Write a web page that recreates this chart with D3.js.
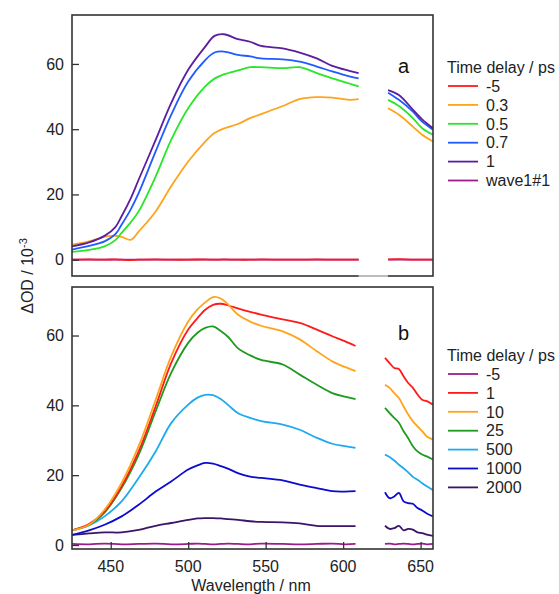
<!DOCTYPE html>
<html><head><meta charset="utf-8">
<script src="https://cdn.jsdelivr.net/npm/d3@7"></script>
<style>body{margin:0;background:#fff}svg{display:block;font-family:"Liberation Sans",Arial,sans-serif}</style>
</head><body><svg id="c" width="559" height="594"></svg>
<script>
// ---------- DATA ----------
// Panel a
const wlA = [425,436,446,453,457,463,468,479,489,500,511,517,523,532,540,547,561,572,583,593,604,610,620,629,636,645,651,658];
const a_m5   = [0,0.1,0,0.1,0,-0.1,0,0.1,0,0,0.1,0,0.1,0,0,0.1,0,0,0.1,0,0,0,null,0.1,0.2,0,0,0];
const a_03   = [4.6,5.6,7.1,7.3,7.0,6.1,8.6,14.8,22.5,30.1,36.2,38.8,40.2,41.6,43.4,44.6,47.1,49.2,49.8,49.7,49.0,49.2,null,46.4,44.4,40.8,38.3,36.2];
const a_05   = [2.4,3.0,4.1,6.0,8.2,11.5,14.8,25.5,36.7,46.4,53.1,55.5,56.8,58.0,59.0,59.0,58.7,59.0,57.2,55.6,54.0,53.1,null,49.0,47.1,43.4,40.3,38.3];
const a_07   = [3.1,4.2,5.6,7.8,10.7,15.5,20.4,33.2,44.4,54.6,61.2,63.5,63.8,62.8,62.3,61.7,61.4,60.7,59.2,57.7,56.2,55.6,null,51.2,49.0,45.4,42.3,39.8];
const a_1    = [4.1,5.3,7.3,10.0,13.3,18.9,24.5,36.7,48.0,58.2,65.3,68.6,69.1,67.6,66.8,65.5,64.8,63.5,61.7,59.4,57.9,57.2,null,52.0,50.5,46.0,43.0,40.3];
const a_wave = [0,0,0,0,0,0,0,0,0,0,0,0,0,0,0,0,0,0,0,0,0,0,null,0,0,0,0,0];
const labelsA = ["-5","0.3","0.5","0.7","1","wave1#1"];

// Panel b
const wlB = [425,436,446,457,468,479,489,500,506,511,516,521,526,532,540,547,561,572,583,593,601,608,618,627,630,633,636,639,642,645,648,651,654,658];
const b_m5   = [0.3,0.2,0.4,0.2,0.3,0.4,0.2,0.3,0.4,0.3,0.2,0.3,0.4,0.3,0.2,0.4,0.3,0.2,0.3,0.4,0.2,0.3,null,0.3,0.4,0.2,0.3,0.4,0.3,0.2,0.3,0.4,0.2,0.3];
const b_1    = [4.2,6.0,9.6,16.8,26.8,39.7,52.1,61.7,65.0,67.4,68.8,69.1,68.6,67.8,66.8,66.0,64.6,63.6,61.7,59.8,58.4,57.0,null,53.6,52.1,50.7,50.4,48.3,46.4,45.0,43.1,41.6,41.2,40.2];
const b_10   = [4.2,5.8,10.1,17.8,28.3,41.6,54.0,64.0,67.5,69.5,71.0,70.6,68.8,66.0,64.0,62.8,61.2,58.9,55.5,52.6,51.0,49.8,null,45.9,45.0,43.5,42.1,39.7,37.4,35.4,34.0,32.6,31.1,30.2];
const b_25   = [4.2,5.8,9.3,16.3,25.8,38.3,49.3,57.9,60.8,62.2,62.6,61.3,59.5,56.4,54.3,53.0,51.7,48.8,45.9,43.5,42.5,41.8,null,39.3,37.8,36.4,35.0,32.6,30.6,28.3,26.8,25.9,25.4,24.5];
const b_500  = [4.2,5.6,8.2,12.5,19.2,26.8,34.9,40.2,42.2,43.0,42.9,41.8,40.0,37.8,36.4,35.5,34.5,33.0,30.7,29.0,28.3,27.8,null,25.9,25.2,24.2,23.0,22.0,20.8,19.5,18.7,17.7,16.8,15.7];
const b_1000 = [2.9,4.2,5.8,8.2,11.5,15.3,18.2,21.6,22.8,23.5,23.3,22.6,21.8,20.6,19.6,19.2,18.5,17.3,16.3,15.4,15.3,15.4,null,15.1,13.4,13.9,14.9,12.5,12.0,11.8,10.6,9.9,9.0,8.2];
const b_2000 = [2.9,3.3,3.6,3.6,4.3,5.5,6.3,7.2,7.6,7.7,7.7,7.6,7.4,7.2,6.8,6.6,6.5,6.2,5.5,5.4,5.4,5.4,null,5.5,4.6,4.8,5.5,4.2,4.6,4.4,3.6,3.4,3.0,2.6];
const labelsB = ["-5","1","10","25","500","1000","2000"];

const xTicks = [450,500,550,600,650];
const yTicks = [0,20,40,60];

// ---------- DRAW ----------
const svg = d3.select("#c");
const L = 72, R = 433;
const x = d3.scaleLinear().domain([425,658]).range([L,R]);

const panels = [
  {top:15, bottom:276, dom:[-5,75], wl:wlA, tag:"a", tagY:73, legTop:73,
   series:[a_m5,a_03,a_05,a_07,a_1,a_wave],
   colors:["#ff1a1a","#ffa31a","#28e628","#1f5bff","#5a1e9e","#9c1c8c"], labels:labelsA,
   drawOrder:[5,0,1,2,3,4], showX:false, gapFrom:610, gapTo:629},
  {top:287, bottom:549, dom:[-1.15,73.9], wl:wlB, tag:"b", tagY:340, legTop:361,
   series:[b_m5,b_1,b_10,b_25,b_500,b_1000,b_2000],
   colors:["#9c1c8c","#ff1a1a","#ffa31a","#1e9a1e","#1eaaf0","#0b0bd0","#3a1466"], labels:labelsB,
   drawOrder:[0,6,5,4,3,1,2], showX:true}
];

panels.forEach((p,pi)=>{
  const y = d3.scaleLinear().domain(p.dom).range([p.bottom,p.top]);
  const clipId = "clip"+pi;
  svg.append("clipPath").attr("id",clipId).append("rect")
    .attr("x",L).attr("y",p.top).attr("width",R-L).attr("height",p.bottom-p.top);
  const g = svg.append("g").attr("clip-path",`url(#${clipId})`);
  const line = d3.line().defined(d=>d[1]!=null).x(d=>x(d[0])).y(d=>y(d[1])).curve(d3.curveCatmullRom.alpha(0.5));
  p.drawOrder.forEach(i=>{
    const data = p.wl.map((w,k)=>[w, p.series[i][k]]);
    g.append("path").attr("d",line(data)).attr("fill","none")
      .attr("stroke",p.colors[i]).attr("stroke-width",1.8).attr("stroke-linejoin","round");
  });
  // y axis (ticks inward)
  const yAx = svg.append("g").attr("transform",`translate(${L},0)`)
    .call(d3.axisRight(y).tickValues(yTicks).tickSize(7).tickFormat(""));
  yAx.select(".domain").remove();
  yAx.selectAll("line").attr("stroke","#333").attr("stroke-width",1.3);
  yTicks.forEach(t=>{
    svg.append("text").attr("x",64).attr("y",y(t)).attr("dy","0.36em")
      .attr("text-anchor","end").attr("font-size",16).attr("fill","#222").text(t);
  });
  if(p.showX){
    const xAx = svg.append("g").attr("transform",`translate(0,${p.bottom})`)
      .call(d3.axisTop(x).tickValues(xTicks).tickSize(7).tickFormat(""));
    xAx.select(".domain").remove();
    xAx.selectAll("line").attr("stroke","#333").attr("stroke-width",1.3);
    xTicks.forEach(t=>{
      svg.append("text").attr("x",x(t)).attr("y",p.bottom+12).attr("dy","0.71em")
        .attr("text-anchor","middle").attr("font-size",16).attr("fill","#222").text(t);
    });
  }
  svg.append("rect").attr("x",L).attr("y",p.top).attr("width",R-L).attr("height",p.bottom-p.top)
    .attr("fill","none").attr("stroke","#333").attr("stroke-width",1.6);
  if(p.gapFrom){
    svg.append("line").attr("x1",x(p.gapFrom)).attr("x2",x(p.gapTo))
      .attr("y1",p.bottom).attr("y2",p.bottom).attr("stroke","#c8c8c8").attr("stroke-width",1.8);
  }
  svg.append("text").attr("x",398).attr("y",p.tagY).attr("font-size",20).attr("fill","#111").text(p.tag);
  // legend
  const lg = svg.append("g");
  lg.append("text").attr("x",447).attr("y",p.legTop).attr("font-size",16).attr("fill","#222").text("Time delay / ps");
  p.labels.forEach((lab,k)=>{
    const yy = p.legTop + 13 + k*18.9;
    lg.append("line").attr("x1",448).attr("x2",478).attr("y1",yy).attr("y2",yy)
      .attr("stroke",p.colors[k]).attr("stroke-width",1.8);
    lg.append("text").attr("x",486).attr("y",yy).attr("dy","0.36em").attr("font-size",16)
      .attr("fill","#222").text(lab);
  });
});

// axis titles
svg.append("text").attr("x",251).attr("y",591).attr("text-anchor","middle")
  .attr("font-size",16).attr("fill","#222").text("Wavelength / nm");
const yl = svg.append("text").attr("transform","translate(33,276) rotate(-90)")
  .attr("text-anchor","middle").attr("font-size",16).attr("fill","#222");
yl.append("tspan").text("\u0394OD / 10");
yl.append("tspan").attr("dy",-6).attr("font-size",11).text("-3");
</script></body></html>
